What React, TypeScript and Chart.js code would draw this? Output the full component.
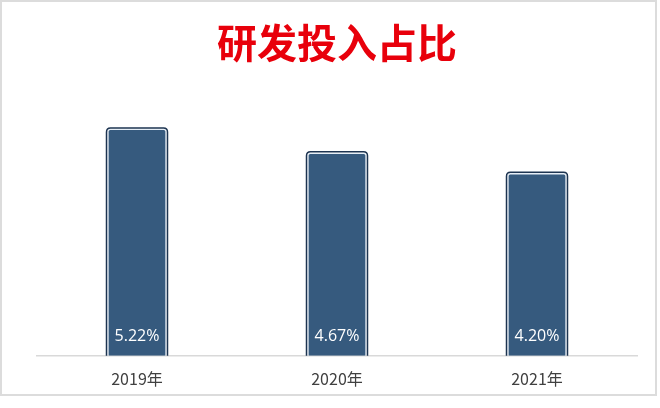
import React, { useEffect, useRef } from "react";
import { Chart, registerables } from "chart.js";

Chart.register(...registerables);

const categories = ["2019年", "2020年", "2021年"];
const values = [5.22, 4.67, 4.2];
const valueLabels = ["5.22%", "4.67%", "4.20%"];
const titleText = "研发投入占比";

const outlinePlugin = {
  id: "outlineAndLabels",
  afterDatasetsDraw(chart: any) {
    const ctx = chart.ctx;
    const meta = chart.getDatasetMeta(0);
    ctx.save();
    meta.data.forEach((bar: any, i: number) => {
      const left = bar.x - bar.width / 2;
      const right = bar.x + bar.width / 2;
      const top = bar.y;
      const bottom = bar.base;
      const o = 1;
      const r = 4;
      ctx.beginPath();
      ctx.moveTo(left - o, bottom);
      ctx.lineTo(left - o, top - o + r);
      ctx.quadraticCurveTo(left - o, top - o, left - o + r, top - o);
      ctx.lineTo(right + o - r, top - o);
      ctx.quadraticCurveTo(right + o, top - o, right + o, top - o + r);
      ctx.lineTo(right + o, bottom);
      ctx.strokeStyle = "#1d3451";
      ctx.lineWidth = 1.5;
      ctx.stroke();

      ctx.fillStyle = "#ffffff";
      ctx.font = '16px "Open Sans", "Noto Sans", sans-serif';
      ctx.textAlign = "center";
      ctx.textBaseline = "middle";
      ctx.fillText(valueLabels[i], bar.x, bottom - 19);
    });
    ctx.restore();
  },
};

export default function App() {
  const ref = useRef<HTMLCanvasElement | null>(null);
  useEffect(() => {
    if (!ref.current) return;
    const chart = new Chart(ref.current, {
      type: "bar",
      data: {
        labels: categories,
        datasets: [
          {
            data: values,
            backgroundColor: "#365a7e",
            borderColor: "#e6eef6",
            borderWidth: 1.5,
            borderRadius: { topLeft: 3, topRight: 3, bottomLeft: 0, bottomRight: 0 },
            borderSkipped: "bottom",
            barThickness: 59,
          },
        ],
      },
      options: {
        animation: false,
        responsive: false,
        maintainAspectRatio: false,
        layout: { padding: { left: 37, right: 23, top: 0, bottom: 5 } },
        plugins: {
          legend: { display: false },
          tooltip: { enabled: false },
          title: {
            display: true,
            text: titleText,
            color: "#e8000b",
            font: { size: 40, weight: "bold", family: '"Noto Sans CJK SC", sans-serif' },
            padding: { top: 19, bottom: 28 },
          },
        },
        scales: {
          x: {
            grid: { display: false, drawTicks: false },
            border: { color: "#d9d9d9", width: 1.5 },
            ticks: {
              color: "#404040",
              font: { size: 16, family: '"Noto Sans CJK SC", sans-serif' },
              padding: 14,
            },
          },
          y: {
            display: false,
            min: 0,
            max: 6,
          },
        },
      },
      plugins: [outlinePlugin],
    });
    return () => chart.destroy();
  }, []);

  return (
    <div style={{ position: "fixed", left: 0, top: 0, width: 660, height: 408, background: "#fff" }}>
      <canvas ref={ref} width={660} height={408} style={{ position: "absolute", left: 0, top: 0, width: 660, height: 408 }} />
      <div
        style={{
          position: "absolute",
          left: 0,
          top: 0,
          width: 657,
          height: 396,
          boxSizing: "border-box",
          border: "2px solid #dcdcdc",
          pointerEvents: "none",
        }}
      />
    </div>
  );
}
